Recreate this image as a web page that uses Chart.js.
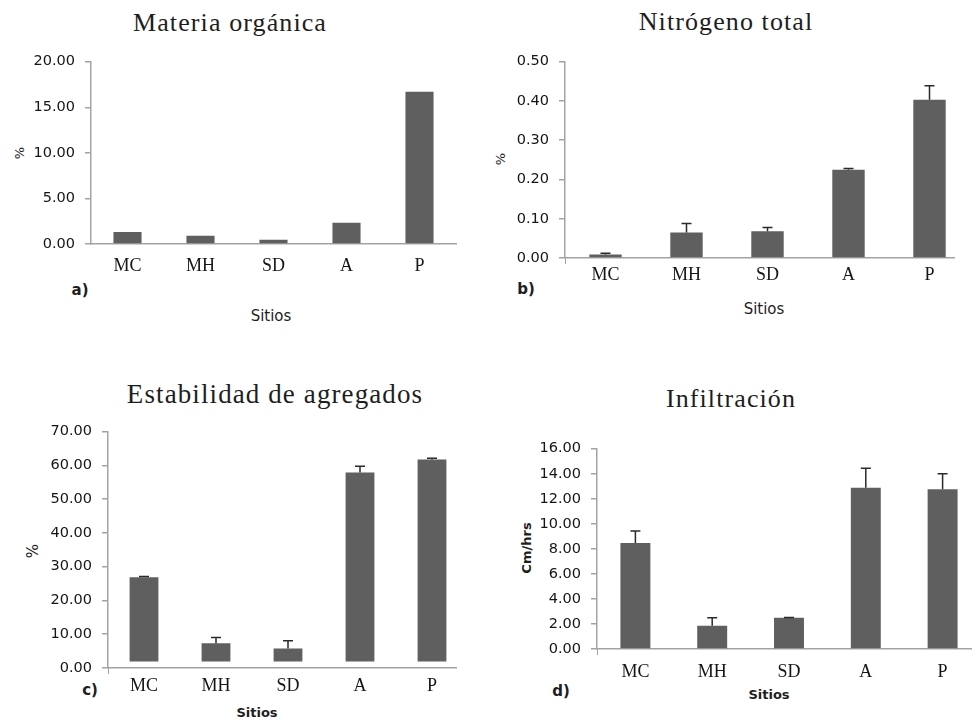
<!doctype html>
<html lang="es">
<head>
<meta charset="utf-8">
<title>Propiedades del suelo por sitio</title>
<script src="https://cdn.jsdelivr.net/npm/chart.js"></script>
<style>
  html, body { margin: 0; padding: 0; background: #fff; }
  body { width: 972px; height: 721px; position: relative; overflow: hidden; }
  .wrap { position: absolute; overflow: hidden; }
  .txt { position: absolute; white-space: nowrap; color: #1e1e1e; line-height: 1; transform: translate(-50%, -50%); }
  .title { font-family: "Liberation Serif", serif; font-size: 26px; letter-spacing: 1.1px; }
  .sans { font-family: "DejaVu Sans", sans-serif; }
  .rot { transform: translate(-50%, -50%) rotate(-90deg); }
</style>
</head>
<body>

<!-- titles and axis texts -->
<div class="txt title" style="left:230px;top:23px;">Materia orgánica</div>
<div class="txt title" style="left:726px;top:22px;">Nitrógeno total</div>
<div class="txt title" style="left:275px;top:394px;font-size:27px;">Estabilidad de agregados</div>
<div class="txt title" style="left:731px;top:399px;">Infiltración</div>

<div class="txt sans rot" style="left:19px;top:153px;font-size:13px;">%</div>
<div class="txt sans rot" style="left:500px;top:159px;font-size:13px;">%</div>
<div class="txt sans rot" style="left:33px;top:551px;font-size:15px;">%</div>
<div class="txt sans rot" style="left:526px;top:548px;font-size:13px;font-weight:bold;">Cm/hrs</div>

<div class="txt sans" style="left:80px;top:290px;font-size:15px;font-weight:bold;">a)</div>
<div class="txt sans" style="left:526px;top:289px;font-size:15px;font-weight:bold;">b)</div>
<div class="txt sans" style="left:90px;top:690px;font-size:15px;font-weight:bold;">c)</div>
<div class="txt sans" style="left:561px;top:691px;font-size:15px;font-weight:bold;">d)</div>

<div class="txt sans" style="left:271px;top:316px;font-size:15px;">Sitios</div>
<div class="txt sans" style="left:764px;top:309px;font-size:15px;">Sitios</div>
<div class="txt sans" style="left:257px;top:712px;font-size:13px;font-weight:bold;">Sitios</div>
<div class="txt sans" style="left:769px;top:694px;font-size:13px;font-weight:bold;">Sitios</div>

<script>
// ---- data ----
const sites = ['MC', 'MH', 'SD', 'A', 'P'];

const organicMatter = [1.33, 0.90, 0.47, 2.34, 16.69];   // %

const totalNitrogen = [0.009, 0.065, 0.068, 0.225, 0.403]; // %
const totalNitrogenErr = [0.003, 0.023, 0.010, 0.003, 0.036];

const aggregateStability = [26.85, 7.3, 5.8, 57.9, 61.8];  // %
const aggregateStabilityErr = [0.25, 1.7, 2.3, 1.9, 0.3];
const aggregateBarBase = 1.95; // bars in the original start a bit above zero

const infiltration = [8.47, 1.86, 2.49, 12.88, 12.77];     // cm/hrs
const infiltrationErr = [0.95, 0.63, 0.02, 1.55, 1.23];

// y axis ranges
const organicAxis = { max: 20, step: 5 };
const nitrogenAxis = { max: 0.5, step: 0.1 };
const aggregateAxis = { max: 70, step: 10 };
const infiltrationAxis = { max: 16, step: 2 };

const AXIS_GRAY = '#a3a3a3';
const BAR_GRAY = '#5f5f5f';
const TEXT = '#151515';

// draws the upper error bar of each bar
const errorBars = {
  id: 'errorBars',
  afterDatasetsDraw(chart) {
    const ds = chart.data.datasets[0];
    if (!ds.errors) return;
    const meta = chart.getDatasetMeta(0);
    const yScale = chart.scales.y;
    const ctx = chart.ctx;
    ctx.save();
    ctx.strokeStyle = '#2a2a2a';
    ctx.lineWidth = 1.5;
    meta.data.forEach((bar, i) => {
      const v = ds.data[i];
      const top = yScale.getPixelForValue(v + ds.errors[i]);
      const start = yScale.getPixelForValue(v);
      ctx.beginPath();
      ctx.moveTo(bar.x, start);
      ctx.lineTo(bar.x, top);
      ctx.moveTo(bar.x - 5, top);
      ctx.lineTo(bar.x + 5, top);
      ctx.stroke();
    });
    ctx.restore();
  }
};

function makePanel(p) {
  const yW = 90, padTop = 16, xH = 40;
  const cLeft = p.box.left - yW;
  const cTop = p.box.top - padTop;
  const cW = p.box.right - cLeft + 2;
  const cH = p.box.bottom - cTop + xH;

  const wrap = document.createElement('div');
  wrap.className = 'wrap';
  wrap.style.left = cLeft + 'px';
  wrap.style.top = cTop + 'px';
  wrap.style.width = (Math.min(p.clipRight, p.box.right + 2) - cLeft) + 'px';
  wrap.style.height = cH + 'px';
  const canvas = document.createElement('canvas');
  canvas.width = cW;
  canvas.height = cH;
  canvas.style.width = cW + 'px';
  canvas.style.height = cH + 'px';
  wrap.appendChild(canvas);
  document.body.appendChild(wrap);

  new Chart(canvas, {
    type: 'bar',
    data: {
      labels: sites,
      datasets: [{
        data: p.values,
        errors: p.errors,
        base: p.base,
        backgroundColor: BAR_GRAY,
        borderWidth: 0,
        categoryPercentage: 1,
        barPercentage: p.barPct
      }]
    },
    options: {
      responsive: false,
      animation: false,
      devicePixelRatio: 1,
      layout: { padding: { top: padTop, right: 2, left: 0, bottom: 0 } },
      plugins: { legend: { display: false }, tooltip: { enabled: false }, title: { display: false } },
      scales: {
        x: {
          afterFit(s) { s.height = xH; },
          grid: {
            drawOnChartArea: false,
            drawTicks: true,
            tickLength: 6,
            color: c => (p.stub && c.index === 0) ? AXIS_GRAY : 'rgba(0,0,0,0)'
          },
          border: { display: true, color: AXIS_GRAY, width: 1.5 },
          ticks: {
            padding: p.xPad,
            color: TEXT,
            font: { family: '"Liberation Serif", serif', size: 18 }
          }
        },
        y: {
          min: 0,
          max: p.axis.max,
          afterFit(s) { s.width = yW; },
          grid: { drawOnChartArea: false, drawTicks: true, tickLength: 6, color: AXIS_GRAY, lineWidth: 1.5 },
          border: { display: true, color: AXIS_GRAY, width: 1.5 },
          ticks: {
            stepSize: p.axis.step,
            padding: 10,
            color: TEXT,
            font: { family: '"DejaVu Sans", sans-serif', size: 14.5 },
            callback: v => Number(v).toFixed(2)
          }
        }
      }
    },
    plugins: [errorBars]
  });
}

makePanel({ box: { left: 91, top: 59, right: 456, bottom: 244 }, clipRight: 460,
  values: organicMatter, axis: organicAxis, barPct: 0.385, xPad: 5, stub: false });
makePanel({ box: { left: 565, top: 59, right: 970, bottom: 258 }, clipRight: 955,
  values: totalNitrogen, errors: totalNitrogenErr, axis: nitrogenAxis, barPct: 0.40, xPad: 0, stub: true });
makePanel({ box: { left: 108, top: 429, right: 468, bottom: 668 }, clipRight: 457,
  values: aggregateStability, errors: aggregateStabilityErr, base: aggregateBarBase,
  axis: aggregateAxis, barPct: 0.40, xPad: 1, stub: true });
makePanel({ box: { left: 597, top: 446, right: 981, bottom: 649 }, clipRight: 972,
  values: infiltration, errors: infiltrationErr, axis: infiltrationAxis, barPct: 0.39, xPad: 6, stub: true });
</script>
</body>
</html>
